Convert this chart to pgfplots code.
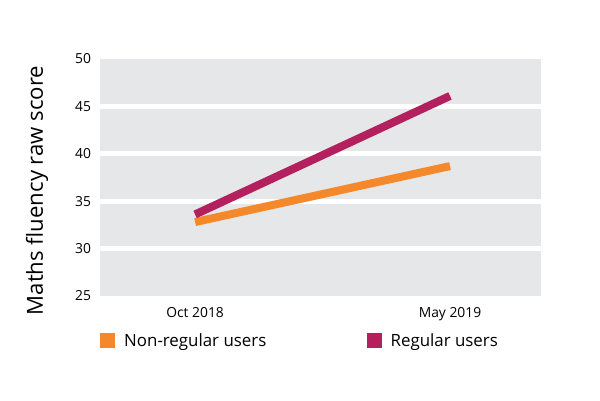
\documentclass[border=0pt]{standalone}
\usepackage{pgfplots}
\pgfplotsset{compat=1.18}
\usepackage{fontspec}
\setmainfont{Open Sans}
\definecolor{bg}{HTML}{E6E7E8}
\definecolor{orng}{HTML}{F5882A}
\definecolor{mag}{HTML}{B41F5E}
\begin{document}
\begin{tikzpicture}
\path[use as bounding box] (0,0) rectangle (433.6pt,-289.1pt);
\begin{axis}[
  at={(72.27pt,-213.9pt)}, anchor=south west,
  scale only axis, width=318.7pt, height=171.3pt,
  xmin=-0.373, xmax=1.357, ymin=25, ymax=50,
  xtick={0,1}, xticklabels={Oct 2018, May 2019},
  ytick={30,35,40,45},
  extra y ticks={25,50},
  extra y tick style={grid=none},
  ymajorgrids,
  grid style={white, line width=3.6pt},
  axis background/.style={fill=bg},
  axis line style={draw=none},
  major tick length=0pt,
  /pgf/number format/assume math mode=true,
  ticklabel style={font=\fontsize{10}{12}\selectfont},
  xticklabel style={yshift=-5pt},
  yticklabel style={xshift=-3pt},
  ylabel={Maths fluency raw score},
  every axis y label/.style={at={(rel axis cs:0,0.5)}, xshift=-45.5pt, yshift=-9.4pt, rotate=90, anchor=center, font=\fontsize{16}{18}\selectfont},
  legend columns=2,
  legend style={at={(rel axis cs:0,0)}, anchor=west, yshift=-32.5pt, draw=none, fill=none, inner sep=0pt,
    font=\fontsize{12.2}{14}\selectfont,
    nodes={inner xsep=6.5pt},
    /tikz/every even column/.append style={column sep=66pt}},
  legend image code/.code={\fill[#1, draw=none] (0pt,-5.4pt) rectangle (10.8pt,5.4pt);},
  clip=false,
]
\addplot[color=orng, line width=5.8pt, line cap=butt] coordinates {(0,32.8) (1,38.7)};
\addlegendentry{Non-regular users}
\addplot[color=mag, line width=5.8pt, line cap=butt] coordinates {(0,33.6) (1,46.1)};
\addlegendentry{Regular users}
\end{axis}
\end{tikzpicture}
\end{document}
